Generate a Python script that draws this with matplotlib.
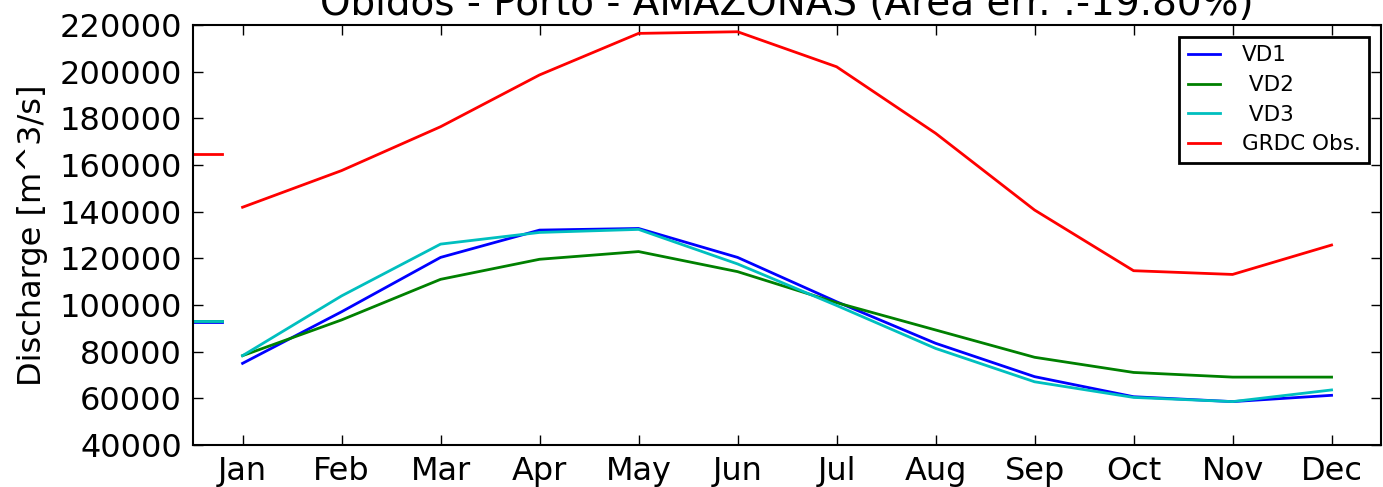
import matplotlib
matplotlib.use('Agg')
import matplotlib.pyplot as plt
import numpy as np

# Monthly mean discharge, Obidos station
months = ['Jan', 'Feb', 'Mar', 'Apr', 'May', 'Jun',
          'Jul', 'Aug', 'Sep', 'Oct', 'Nov', 'Dec']
vd1 = [75000, 97100, 120400, 132100, 132800, 120400,
       101400, 83600, 69300, 60700, 58600, 61300]
vd2 = [78300, 93600, 111000, 119600, 122900, 114300,
       101000, 89300, 77600, 71100, 69100, 69100]
vd3 = [78300, 103900, 126100, 131100, 132400, 117600,
       99800, 81400, 67100, 60400, 58600, 63600]
grdc = [141900, 157600, 176400, 198600, 216400, 217100,
        202100, 173600, 140700, 114700, 113100, 125700]

series = [(vd1, 'b', 'VD1'), (vd2, 'g', ' VD2'), (vd3, 'c', ' VD3'),
          (grdc, 'r', 'GRDC Obs.')]

fig = plt.figure(figsize=(13.83, 4.87), dpi=100)
ax = fig.add_axes([0.1396, 0.0862, 0.859, 0.8625])

x = np.arange(1, 13)
for vals, col, lab in series:
    ax.plot(x, vals, color=col, linewidth=2, label=lab)
    # annual mean marker on the left edge
    ax.axhline(np.mean(vals), xmin=0, xmax=0.024, color=col, linewidth=2)

ax.set_xlim(0.5, 12.5)
ax.set_ylim(40000, 220000)
ax.set_yticks(np.arange(40000, 220001, 20000))
ax.set_xticks(x)
ax.set_xticklabels(months)

ax.tick_params(direction='in', top=True, right=True, length=7, width=1,
               labelsize=23, pad=8)
for sp in ax.spines.values():
    sp.set_linewidth(1.5)

ax.set_ylabel('Discharge [m^3/s]', fontsize=23, labelpad=8)
ax.set_title('Obidos - Porto - AMAZONAS (Area err. :-19.80%)', fontsize=28, pad=7)

leg = ax.legend(loc='upper right', fontsize=15.5, handlelength=1.5,
                handletextpad=1.0, labelspacing=0.45, borderaxespad=0.55,
                fancybox=False, framealpha=1)
leg.get_frame().set_edgecolor('black')
leg.get_frame().set_linewidth(2)

fig.savefig('out.png', dpi=100)
